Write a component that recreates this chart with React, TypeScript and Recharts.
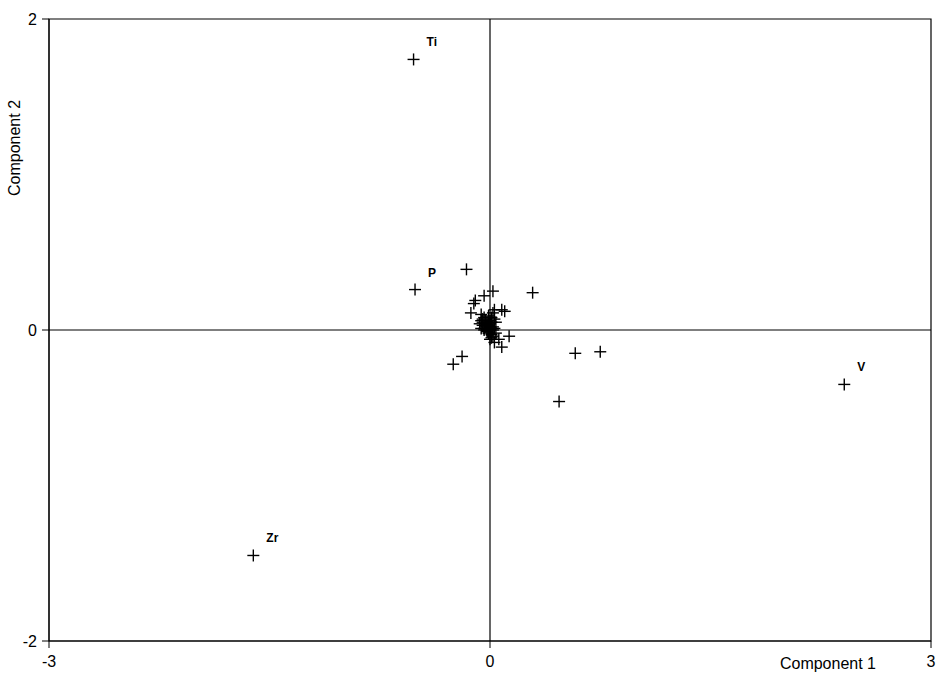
import React from 'react';
import { ScatterChart, Scatter, XAxis, YAxis, ReferenceLine, ReferenceArea, Label } from 'recharts';

// loadings on component 1 / component 2
const labelledPoints = [
  { x: -0.52, y: 1.74, name: 'Ti' },
  { x: -0.51, y: 0.26, name: 'P' },
  { x: 2.41, y: -0.35, name: 'V' },
  { x: -1.61, y: -1.45, name: 'Zr' },
];

const comp1 = [
  -0.16, 0.29, 0.47, 0.58, 0.75, -0.25, -0.19,
  0.02, -0.04, -0.10, -0.11, 0.03, 0.08, -0.13, -0.06, 0.10, 0.02,
  -0.06, -0.04, -0.02, 0.0, -0.05, -0.03, 0.0, 0.02, -0.01, 0.02, 0.04,
  0.01, 0.04, -0.07, 0.0, 0.03, 0.06, 0.13, 0.08, -0.02, 0.01, -0.04, 0.03,
  -0.05, -0.03, -0.01, 0.01, -0.06, -0.02, 0.0, 0.02, -0.04, -0.01, 0.03,
  -0.03, 0.0, -0.05, 0.01, -0.02,
];
const comp2 = [
  0.39, 0.24, -0.46, -0.15, -0.14, -0.22, -0.17,
  0.25, 0.22, 0.19, 0.17, 0.13, 0.13, 0.11, 0.10, 0.12, 0.11,
  0.06, 0.08, 0.05, 0.04, 0.03, 0.02, 0.0, 0.02, -0.02, -0.04, -0.02,
  0.08, 0.05, 0.04, -0.06, -0.08, -0.06, -0.04, -0.11, 0.0, -0.03, 0.01, 0.07,
  0.07, 0.06, 0.03, 0.05, 0.01, -0.01, 0.06, 0.0, 0.0, 0.09, 0.01,
  0.04, 0.02, 0.05, -0.05, 0.03,
];

const xTicks = [-3, 0, 3];
const yTicks = [-2, 0, 2];

const otherPoints = comp1.map((x, i) => ({ x, y: comp2[i], name: '' }));
const allPoints = [...otherPoints, ...labelledPoints];

const font = 'Liberation Sans, Arial, sans-serif';

const Plus = (props: any) => {
  const { cx, cy, payload } = props;
  return (
    <g>
      <line x1={cx - 6} x2={cx + 6} y1={cy} y2={cy} stroke="#000" strokeWidth={1.4} />
      <line x1={cx} x2={cx} y1={cy - 6} y2={cy + 6} stroke="#000" strokeWidth={1.4} />
      {payload.name ? (
        <text x={cx + 13} y={cy - 13} fontSize={12} fontWeight="bold" fill="#000" fontFamily={font}>
          {payload.name}
        </text>
      ) : null}
    </g>
  );
};

export default function App() {
  return (
    <div style={{ position: 'absolute', left: 0, top: 0, background: '#fff' }}>
      <ScatterChart width={939} height={681} margin={{ top: 19, right: 8, bottom: 0, left: 0 }}>
        <XAxis
          type="number"
          dataKey="x"
          domain={[-3, 3]}
          ticks={xTicks}
          height={40}
          stroke="#000"
          tickSize={7}
          tick={{ fill: '#000', fontSize: 16, fontFamily: font, dy: 6 }}
        >
          <Label
            content={() => (
              <text x={876} y={669} textAnchor="end" fontSize={16} fontFamily={font} fill="#000">
                Component 1
              </text>
            )}
          />
        </XAxis>
        <YAxis
          type="number"
          dataKey="y"
          domain={[-2, 2]}
          ticks={yTicks}
          width={49}
          stroke="#000"
          tickSize={7}
          tick={{ fill: '#000', fontSize: 16, fontFamily: font, dx: -3 }}
        >
          <Label
            content={() => (
              <text x={20} y={148} textAnchor="middle" transform="rotate(-90, 20, 148)" fontSize={16} fontFamily={font} fill="#000">
                Component 2
              </text>
            )}
          />
        </YAxis>
        <ReferenceArea x1={-3} x2={3} y1={-2} y2={2} fill="none" stroke="#000" strokeWidth={1.2} fillOpacity={0} />
        <ReferenceLine x={0} stroke="#000" strokeWidth={1.2} />
        <ReferenceLine y={0} stroke="#000" strokeWidth={1.2} />
        <Scatter data={allPoints} shape={<Plus />} isAnimationActive={false} />
      </ScatterChart>
    </div>
  );
}
